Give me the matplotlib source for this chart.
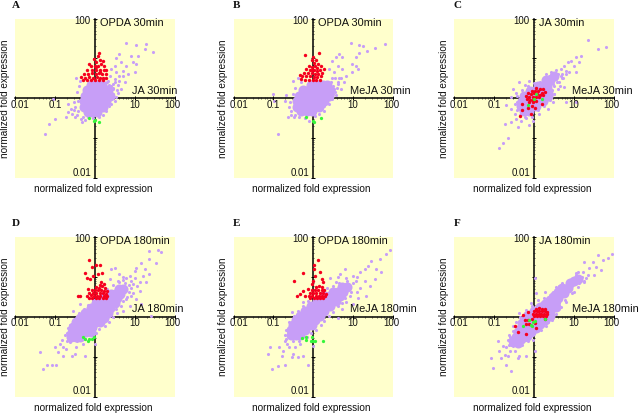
import numpy as np
import matplotlib
matplotlib.use("Agg")
import matplotlib.pyplot as plt
from matplotlib.ticker import LogLocator, NullFormatter

plt.rcParams['font.family'] = ['Liberation Sans', 'DejaVu Sans']

# All values are log10(normalized fold expression): (x, y)
A_CORE = [(-.1,.33),(.04,.33),(.18,.33),(-.2,.2),(-.06,.2),(.08,.2),(.22,.2),(.32,.2),
          (-.24,.06),(-.1,.06),(.04,.06),(.18,.06),(.32,.06),(.38,.06),
          (-.28,-.08),(-.14,-.08),(0,-.08),(.14,-.08),(.28,-.08),
          (-.28,-.22),(-.14,-.22),(0,-.22),(.14,-.22),(.2,-.22),(-.18,-.34),(-.06,-.34),(.06,-.34)]
A_SCAT = [(.79,1.38),(1.04,1.33),(1.29,1.36),(1.46,1.17),(1.25,1.23),(1.08,1.07),(.92,1.07),(.96,.9),
          (1.04,.86),(1,.65),(.62,1.1),(.54,1.02),(.67,.9),(.79,.82),(.5,.82),(.42,.73),(.54,.65),(.71,.69),
          (.83,.61),(.38,.57),(.5,.48),(.62,.44),(.75,.4),(.46,.36),(.58,.32),(.33,.44),(.46,.23),(.67,.23),
          (.46,.11),(-1.25,-.89),(-1.14,-.64),(-1,-.52),(-.71,-.48),(-.67,-.35),(-.58,-.39),(-.67,-.14),
          (-.5,-.48),(-.33,-.6),(-.42,-.31),(-.5,-.22),(-.29,-.48),(-1.04,-.02),(-.47,.52),(-.37,.44),
          (-.42,-.06),(-.17,-.48),(.2,-.43),(.29,-.31),(.42,-.14),(.5,-.06),(.54,.02),(-.45,-.42),(.36,.34),
          (.3,.42),(.42,.3),(.55,.2),(.25,.5),(.6,.55),(.7,.55),(.52,.42),(.58,.14),(-.4,.3),(-.45,.15),
          (-.52,-.1),(-.52,-.3),(-.6,-.28),(.45,.25),(-.35,-.52),(-.25,-.55),(-.05,-.5),(.1,-.47),(.35,-.2)]
A_RED = [(.1,1.13),(.08,1.05),(-.02,.98),(.12,.97),(.2,.93),(-.14,.87),(.03,.9),(.16,.85),(.24,.8),(-.1,.8),
         (.0,.82),(.08,.8),(.28,.72),(-.2,.72),(-.07,.72),(.03,.72),(.13,.72),(.22,.7),(-.27,.6),(-.16,.62),
         (-.06,.63),(.04,.62),(.1,.64),(.18,.6),(.27,.6),(-.35,.53),(-.24,.5),(-.14,.53),(-.04,.52),(.06,.54),
         (.13,.52),(.2,.5),(.28,.5),(-.2,.46),(-.1,.45),(0,.46),(.1,.46),(.2,.45),(-.3,.47),(.02,.78),(.14,.66)]
A_GREEN = [(-.15,-.49),(0,-.55),(-.02,-.58),(.1,-.6)]

B_CORE = [(-.05,.33),(.1,.33),(.25,.33),(.35,.33),(-.25,.2),(-.1,.2),(.05,.2),(.2,.2),(.35,.2),(.42,.2),
          (-.35,.06),(-.2,.06),(-.05,.06),(.1,.06),(.25,.06),(.4,.06),
          (-.42,-.08),(-.28,-.08),(-.14,-.08),(0,-.08),(.14,-.08),(.28,-.08),
          (-.42,-.22),(-.28,-.22),(-.14,-.22),(0,-.22),(.14,-.22),(-.3,-.32),(-.16,-.32),(-.02,-.32)]
B_SCAT = [(.94,1.38),(1.15,1.34),(1.26,1.32),(1.8,1.36),(1.54,1.26),(1.36,1.18),(1.15,1.13),(.65,1.11),
          (.57,1.03),(.73,1.04),(1.07,1.03),(.98,.86),(1.07,.82),(1.11,.73),(.98,.65),(.48,.94),(.4,.73),
          (.61,.82),(.73,.73),(.53,.65),(.82,.57),(.65,.52),(.48,.52),(.78,.4),(.61,.36),(.69,.23),(.53,.23),
          (.57,.07),(-.39,.52),(-.52,.44),(-.68,.07),(-.7,-.06),(-.6,-.22),(-.64,-.48),(-.56,-.43),(-.89,-.89),
          (-.48,-.48),(-.35,-.48),(-.1,-.56),(.15,-.39),(.28,-.31),(.4,-.14),(-.98,-.06),(-1.0,.1),
          (.5,.3),(.55,.15),(.62,.42),(.45,.42),(.7,.5),(.55,.5),(.6,.25),(-.45,.25),(-.52,.1),(-.58,-.1),
          (-.3,.4),(-.55,-.33),(-.45,-.42),(-.2,-.5),(.05,-.45),(.28,-.2),(.48,-.02),(.5,.1)]
B_RED = [(-.2,1.08),(.15,1.13),(0,1.03),(-.03,.95),(.08,.95),(.02,.88),(.12,.87),(-.1,.82),(.2,.8),(.05,.8),
         (-.02,.78),(.1,.75),(.27,.73),(-.17,.73),(-.08,.72),(.03,.7),(.17,.7),(-.24,.63),(-.13,.63),(-.04,.63),
         (.05,.62),(.13,.62),(.22,.63),(-.34,.58),(-.28,.55),(-.18,.55),(-.08,.55),(.02,.54),(.1,.54),(.2,.55),
         (-.3,.48),(-.2,.47),(-.1,.47),(0,.46),(.08,.47),(.17,.47),(-.02,.7),(.1,.68)]
B_GREEN = [(-.17,-.48),(0,-.57),(.02,-.6),(.2,-.5)]

C_CORE = [(.1,.3),(.22,.3),(.34,.3),(-.1,.18),(.02,.18),(.14,.18),(.26,.18),(.36,.18),
          (-.25,.05),(-.12,.05),(0,.05),(.12,.05),(.26,.05),(.36,.05),(-.3,-.08),(-.16,-.08),(-.02,-.08),(.12,-.08),(.24,-.08),
          (-.32,-.2),(-.2,-.2),(-.06,-.2),(.06,-.2),(-.25,-.33),(-.12,-.33),(.3,.45),(.42,.45),(.5,.55)]
C_SCAT = [(1.37,1.46),(1.6,1.23),(1.82,1.29),(1.18,1.07),(1.06,1.03),(.93,.94),(.85,.9),(1.14,.9),(1.02,.82),
          (.77,.82),(.68,.73),(.81,.69),(.89,.65),(1.06,.65),(.6,.61),(.73,.52),(.56,.48),(.43,.65),(.31,.61),
          (.64,.4),(.48,.36),(.77,.27),(.39,.48),(.6,.23),(.52,.11),(.81,-.1),(1.06,-.1),(-.52,.23),(-.36,.4),
          (-.57,.03),(-.23,.32),(-.11,.44),(-.69,-.18),(-.57,-.27),(-.48,-.39),(-.73,-.64),(-.57,-.6),(-.4,-.71),
          (-.32,-.56),(-.12,-.68),(-.23,-.48),(-.65,-.99),(-.87,-1.24),(-.78,-1.12),(-.44,-.52),(-.02,-.56),
          (.14,-.39),(.35,-.27),(.48,-.1),(.7,.62),(.55,.7),(.66,.3),(-.42,-.1),(-.45,.12),
          (.5,.3),(.58,.42),(.45,.2),(.38,.55),(.25,.48),(.15,.42),(0,.38),(-.15,.3),(-.3,.2),(-.42,.05),
          (-.48,-.15),(-.42,-.3),(-.35,-.42),(-.2,-.5),(-.05,-.48),(.1,-.3),(.25,-.2),(.42,-.05),(.5,.1),
          (.7,.5),(.8,.6),(.68,.55)]
C_RED = [(.05,.25),(.15,.24),(.22,.22),(-.05,.18),(.03,.18),(.1,.17),(.2,.14),(.27,.16),(-.15,.12),(-.08,.11),
         (0,.12),(.08,.1),(.15,.08),(.24,.08),(-.2,.05),(-.12,.04),(-.03,.04),(.05,.03),(.12,.02),(-.18,-.03),
         (-.1,-.04),(-.03,-.05),(.06,-.06),(-.12,-.1),(-.02,-.1),(-.3,-.15),(-.35,-.45),(-.3,-.3),(-.08,-.4),
         (.02,-.25),(.2,-.15),(-.15,-.25),(-.05,-.2)]
C_GREEN = [(.05,.1),(0,-.03),(.2,-.02),(-.15,-.16)]

D_CORE = [(.6,.7),(.72,.7),(.4,.58),(.52,.58),(.64,.58),(.2,.46),(.32,.46),(.44,.46),(.56,.46),
          (.04,.34),(.16,.34),(.28,.34),(.4,.34),(.52,.34),(-.1,.22),(.02,.22),(.14,.22),(.26,.22),(.38,.22),
          (-.25,.1),(-.13,.1),(-.01,.1),(.11,.1),(.23,.1),(.33,.1),(-.38,-.02),(-.26,-.02),(-.14,-.02),(-.02,-.02),(.1,-.02),(.22,-.02),
          (-.46,-.14),(-.34,-.14),(-.22,-.14),(-.1,-.14),(.02,-.14),(.12,-.14),(-.54,-.26),(-.42,-.26),(-.3,-.26),(-.18,-.26),(-.06,-.26),
          (-.58,-.38),(-.46,-.38),(-.34,-.38),(-.22,-.38),(-.1,-.38),(-.6,-.5),(-.48,-.5),(-.36,-.5)]
D_SCAT = [(1.67,1.63),(1.58,1.67),(1.37,1.65),(1.54,1.36),(1.37,1.44),(1.17,1.36),(1.04,1.23),(1.25,1.19),
          (1.37,1.07),(1.21,1.02),(1,1.15),(.88,1.02),(1.13,.86),(.96,.82),(1.29,.86),(.79,.98),(.62,1.07),
          (.5,1.23),(.42,1.19),(.58,.9),(.38,.94),(1.13,.65),(.92,.52),(1.04,.44),(.79,.44),(1.17,.32),(.88,.27),
          (.71,.15),(.54,.19),(1.42,.02),(.85,.8),(.72,.92),(1.02,.98),(.92,.72),
          (-1.29,-1.31),(-1.21,-1.22),(-1.08,-1.22),(-.98,-1.21),(-1.37,-.89),(-1,-.77),(-.92,-.89),(-.79,-.77),
          (-.79,-.98),(-.71,-.81),(-.58,-.98),(-.5,-.93),(-.62,-.64),(-.46,-.77),(-.29,-.68),(-.75,-.47),
          (-.67,-.27),(-.54,.15),(-.37,.32),(-.25,-.98),(0,-.68),(-.87,-.68),(-.7,-.62),(-.82,-.58),
          (.3,.7),(.2,.62),(.45,.8),(.6,.88),(.75,.85),(.9,.9),(.95,.6),(.85,.62),(.8,.5),(.7,.4),(.65,.28),
          (.55,.1),(.45,0),(.35,-.12),(.25,-.22),(.1,-.3),(.03,-.42),(-.05,-.48),(-.25,-.55),(-.45,-.6),
          (-.62,-.55),(-.7,-.42),(-.62,-.2),(-.5,-.05),(-.4,.1),(-.28,.2),(-.18,.3),(-.05,.42),(1.05,.78),(.7,1.0)]
D_RED = [(-.15,1.42),(-.08,1.25),(-.25,1.1),(.02,1.3),(.12,1.3),(-.04,1.02),(.08,1.07),(.17,1.09),(-.19,.98),(-.12,.94),
         (-.42,.52),(-.36,.52),(-.17,.69),(.15,.88),(.22,.83),(.12,.8),(.18,.76),(.25,.72),(.1,.72),(.02,.74),(-.08,.67),
         (.0,.66),(.08,.66),(.16,.66),(.24,.65),(.3,.64),(-.14,.6),(-.05,.6),(.04,.6),(.12,.6),(.2,.6),(.28,.58),
         (-.2,.53),(-.1,.54),(-.02,.53),(.06,.53),(.14,.53),(.22,.53),(.3,.52),(-.15,.47),(-.06,.47),(.03,.47),(.11,.46),(.2,.46),(.28,.46)]
D_GREEN = [(-.29,-.52),(-.25,-.56),(-.17,-.62),(-.08,-.57),(-.03,-.52),(-.14,-.56)]

E_CORE = [(.72,.75),(.84,.75),(.5,.63),(.62,.63),(.74,.63),(.3,.51),(.42,.51),(.54,.51),(.66,.51),
          (.1,.39),(.22,.39),(.34,.39),(.46,.39),(.58,.39),(-.05,.27),(.07,.27),(.19,.27),(.31,.27),(.43,.27),
          (-.2,.15),(-.08,.15),(.04,.15),(.16,.15),(.28,.15),(-.32,.03),(-.2,.03),(-.08,.03),(.04,.03),(.16,.03),
          (-.44,-.09),(-.32,-.09),(-.2,-.09),(-.08,-.09),(.04,-.09),(-.5,-.21),(-.38,-.21),(-.26,-.21),(-.14,-.21),(-.02,-.21),
          (-.56,-.33),(-.44,-.33),(-.32,-.33),(-.2,-.33),(-.56,-.45),(-.44,-.45),(-.32,-.45)]
E_SCAT = [(1.92,1.67),(1.82,1.57),(1.67,1.44),(1.46,1.4),(1.38,1.28),(1.58,1.19),(1.29,1.19),(1.17,1.11),(1,1.03),
          (1.71,1.11),(.79,1.19),(.67,1.07),(.83,.98),(1.08,.9),(1.29,.9),(1.54,.94),(.42,.98),(.58,.86),(.92,.78),
          (1.17,.73),(1.42,.78),(.92,.52),(1.13,.48),(1.33,.53),(.83,.36),(1,.32),(.71,.19),(.63,-.02),
          (-1.04,-1.31),(-.88,-1.23),(-.71,-1.2),(-1.08,-.77),(-1.13,-.93),(-.85,-.77),(-.75,-.85),(-.79,-.98),
          (-.5,-.93),(-.54,-1.02),(-.38,-1.02),(-.25,-.98),(-.12,-1.22),(0,-.73),(-.67,-.68),(-.46,-.77),(-.33,-.68),
          (-.54,.11),(-.71,-.47),(-.25,.36),(-.7,-.6),(-.6,-.75),
          (.35,.72),(.2,.6),(.5,.78),(.65,.85),(.85,.9),(1,.85),(.95,.62),(.88,.7),(.8,.48),(.72,.35),(.62,.28),
          (.5,.12),(.4,.02),(.28,-.1),(.2,-.2),(.08,-.32),(-.05,-.42),(-.15,-.52),(-.35,-.6),(-.5,-.6),
          (-.68,-.55),(-.68,-.32),(-.6,-.12),(-.48,.02),(-.38,.15),(-.25,.28),(-.12,.4),(1.1,.62),(1.1,1.0),(.62,1.0)]
E_RED = [(.12,1.43),(.03,1.3),(.02,1.19),(-.25,1.09),(-.48,.9),(.17,1.13),(.04,1.03),(0,.9),(.25,.86),(.21,.94),
         (-.04,.82),(-.12,.69),(-.25,.65),(-.42,.53),(-.33,.57),(-.21,.53),(.14,.78),(.22,.74),(.06,.74),(-.03,.68),
         (.05,.66),(.13,.66),(.21,.66),(.28,.66),(-.08,.6),(0,.6),(.08,.6),(.16,.6),(.24,.6),(.31,.58),(-.1,.53),
         (-.02,.53),(.06,.53),(.14,.53),(.22,.53),(.3,.52),(-.07,.47),(.01,.47),(.09,.47),(.17,.47),(.25,.47)]
E_GREEN = [(-.27,-.54),(-.17,-.58),(-.04,-.52),(0,-.62),(-.06,-.62),(.04,-.62),(.25,-.6),(-.17,-.5)]

F_CORE = [(1.1,.95),(1.0,.9),(.9,.85),(.85,.72),(.72,.72),(.62,.62),(.75,.6),(.5,.52),(.62,.48),(.4,.42),(.52,.38),
          (.28,.32),(.4,.28),(.55,.25),(.15,.25),(.28,.18),(.42,.15),(0,.15),(.12,.1),(.26,.05),(.4,.02),(-.1,.05),
          (.02,0),(.15,-.04),(.28,-.08),(-.2,-.05),(-.08,-.1),(.04,-.14),(.16,-.18),(-.3,-.15),(-.18,-.2),(-.05,-.25),
          (.06,-.28),(-.32,-.28),(-.2,-.32),(-.08,-.38),(-.4,-.38),(-.28,-.42),(-.16,-.48),(-.45,-.5),(-.33,-.55),(-.52,-.6),(-.4,-.66)]
F_SCAT = [(1.96,1.57),(1.87,1.47),(1.6,1.55),(1.74,1.43),(1.48,1.38),(1.27,1.38),(1.39,1.22),(1.56,1.26),(1.68,1.18),
          (1.23,1.13),(1.35,1.05),(1.52,1.05),(1.06,1.05),(1.14,.84),(1.27,.88),(.98,.84),(.89,.76),(1.02,.63),(.81,.55),
          (.64,.76),(.48,.63),(.27,.63),(.02,.97),(.06,.59),(.81,.38),(.64,.34),(1.2,1.0),(1.3,.98),(1.12,1.12),
          (-1.07,-1.03),(-1.03,-1.28),(-.86,-.87),(-.78,-.74),(-.9,-.62),(-.57,-1.37),(-.69,-1.2),(-.65,-.99),(-.73,-.95),
          (-.82,-1.03),(-.48,-.87),(-.36,-.99),(-.19,-.99),(.02,-.87),(-.53,-.74),(-.36,-.7),(-.19,-.58),(-.03,-.58),
          (.18,-.33),(.35,-.12),(-.61,-.45),(-.53,-.24),(-.65,-.58),(-.36,.09),(-.19,.18),(-.07,.34),(-.4,-1.03),
          (-.7,-.75),(-.6,-.85),(-.62,-.7),
          (.7,.85),(.55,.75),(.42,.55),(.25,.48),(.1,.42),(-.05,.28),(-.22,.1),(-.35,0),(-.45,-.12),(-.52,-.35),
          (-.6,-.5),(-.58,-.7),(-.3,-.72),(-.15,-.62),(0,-.42),(.12,-.3),(.3,-.22),(.45,-.08),(.55,.08),(.68,.25),
          (.78,.42),(.95,.6),(1.1,.75),(1.25,.9),(1.05,1.1)]
F_RED = [(.05,.2),(.12,.22),(.2,.2),(.28,.2),(0,.14),(.07,.14),(.14,.15),(.21,.14),(.29,.14),(.34,.13),(-.03,.08),(.05,.08),
         (.12,.08),(.19,.08),(.26,.08),(.33,.07),(0,.02),(.08,.02),(.15,.02),(.22,.02),(.3,.02),(-.23,-.08),(-.15,-.08),
         (-.48,-.24),(-.4,-.37),(-.19,-.43),(.06,-.28),(.02,-.16),(-.11,-.18),(-.26,.05),(-.15,.13),(.27,-.05),(-.2,-.18),(-.05,-.05)]
F_GREEN = [(-.26,-.24),(-.07,-.2),(-.03,-.13),(.04,-.1),(.27,-.05),(-.11,-.08),(-.04,-.24)]

TICK_VALUES = [0.01, 0.1, 10, 100]
TICK_LABELS = ["0.01", "0.1", "10", "100"]
AXIS_LABEL = "normalized fold expression"

W, H = 640, 413
PURPLE, RED, GREEN, YELLOW = "#C79EF7", "#F5001E", "#35F53A", "#FFFFCC"

# letter, left/top px of square, series labels, data
PANELS = [
    ("A", 15, 18.5, "OPDA 30min", "JA 30min", 131.5, A_CORE, A_SCAT, A_RED, A_GREEN),
    ("B", 233.5, 18.5, "OPDA 30min", "MeJA 30min", 350.5, B_CORE, B_SCAT, B_RED, B_GREEN),
    ("C", 454, 18.5, "JA 30min", "MeJA 30min", 571.5, C_CORE, C_SCAT, C_RED, C_GREEN),
    ("D", 15, 237, "OPDA 180min", "JA 180min", 131.5, D_CORE, D_SCAT, D_RED, D_GREEN),
    ("E", 233.5, 237, "OPDA 180min", "MeJA 180min", 350.5, E_CORE, E_SCAT, E_RED, E_GREEN),
    ("F", 454, 237, "JA 180min", "MeJA 180min", 571.5, F_CORE, F_SCAT, F_RED, F_GREEN),
]
SIZE = 159.5

fig = plt.figure(figsize=(W / 100, H / 100), dpi=100, facecolor="white")


def px(x, y):
    return x / W, 1 - y / H


def pts(values):
    a = np.array(values, dtype=float)
    return 10 ** a[:, 0], 10 ** a[:, 1]


for letter, left, top, ylab, xlab, xlab_x, core, scat, red, green in PANELS:
    ax = fig.add_axes([left / W, 1 - (top + SIZE) / H, SIZE / W, SIZE / H], facecolor=YELLOW)
    ax.set_xscale("log")
    ax.set_yscale("log")
    ax.set_xlim(0.01, 100)
    ax.set_ylim(0.01, 100)
    for side in ("top", "right"):
        ax.spines[side].set_visible(False)
    for side in ("left", "bottom"):
        ax.spines[side].set_position(("data", 1))
        ax.spines[side].set_linewidth(1.1)
        ax.spines[side].set_zorder(1)
    for axis in (ax.xaxis, ax.yaxis):
        axis.set_major_locator(LogLocator(base=10, numticks=6))
        axis.set_minor_locator(LogLocator(base=10, subs=np.arange(2, 10) * 0.1, numticks=6))
        axis.set_major_formatter(NullFormatter())
        axis.set_minor_formatter(NullFormatter())
    ax.tick_params(which="major", direction="inout", length=3.2, width=0.7, color="black")
    ax.tick_params(which="minor", direction="inout", length=2.0, width=0.5, color="#222222")

    ax.scatter(*pts(core), s=52, color=PURPLE, linewidths=0, zorder=3)
    ax.scatter(*pts(scat), s=5, color=PURPLE, linewidths=0, zorder=3)
    ax.scatter(*pts(red), s=6, color=RED, linewidths=0, zorder=4)
    ax.scatter(*pts(green), s=5.5, color=GREEN, linewidths=0, zorder=5)

    cx = left + SIZE / 2
    cy = top + SIZE / 2
    for value, label in zip(TICK_VALUES, TICK_LABELS):
        x_frac = (np.log10(value) + 2) / 4
        x_px = left + x_frac * SIZE
        if value == 0.01:
            x_px += 5
        if value == 100:
            x_px -= 2
        fig.text(*px(x_px, cy + 6.5), label, ha="center", va="center", fontsize=7, color="#111111")
    fig.text(*px(cx - 4.5, top + 2.5), "100", ha="right", va="center", fontsize=7, color="#111111")
    fig.text(*px(cx - 3.5, top + SIZE - 5), "0.01", ha="right", va="center", fontsize=7, color="#111111")

    fig.text(*px(cx + 5, top + 4.5), ylab, ha="left", va="center", fontsize=7.9, color="#111111")
    fig.text(*px(xlab_x, cy - 7.5), xlab, ha="left", va="center", fontsize=7.9, color="#111111")

    fig.text(*px(cx - 1.5, top + SIZE + 11.5), AXIS_LABEL, ha="center", va="center", fontsize=7.2, color="#111111")
    fig.text(*px(left - 10, cy), AXIS_LABEL, ha="center", va="center", rotation=90, fontsize=7.2, color="#111111")
    fig.text(*px(left + 1 if letter in "AD" else left + 3, top - 13), letter, ha="center", va="center",
             fontsize=8, fontweight="bold", family=["Liberation Serif", "DejaVu Serif"], color="#111111")

fig.savefig("out.png", dpi=100, facecolor="white")
